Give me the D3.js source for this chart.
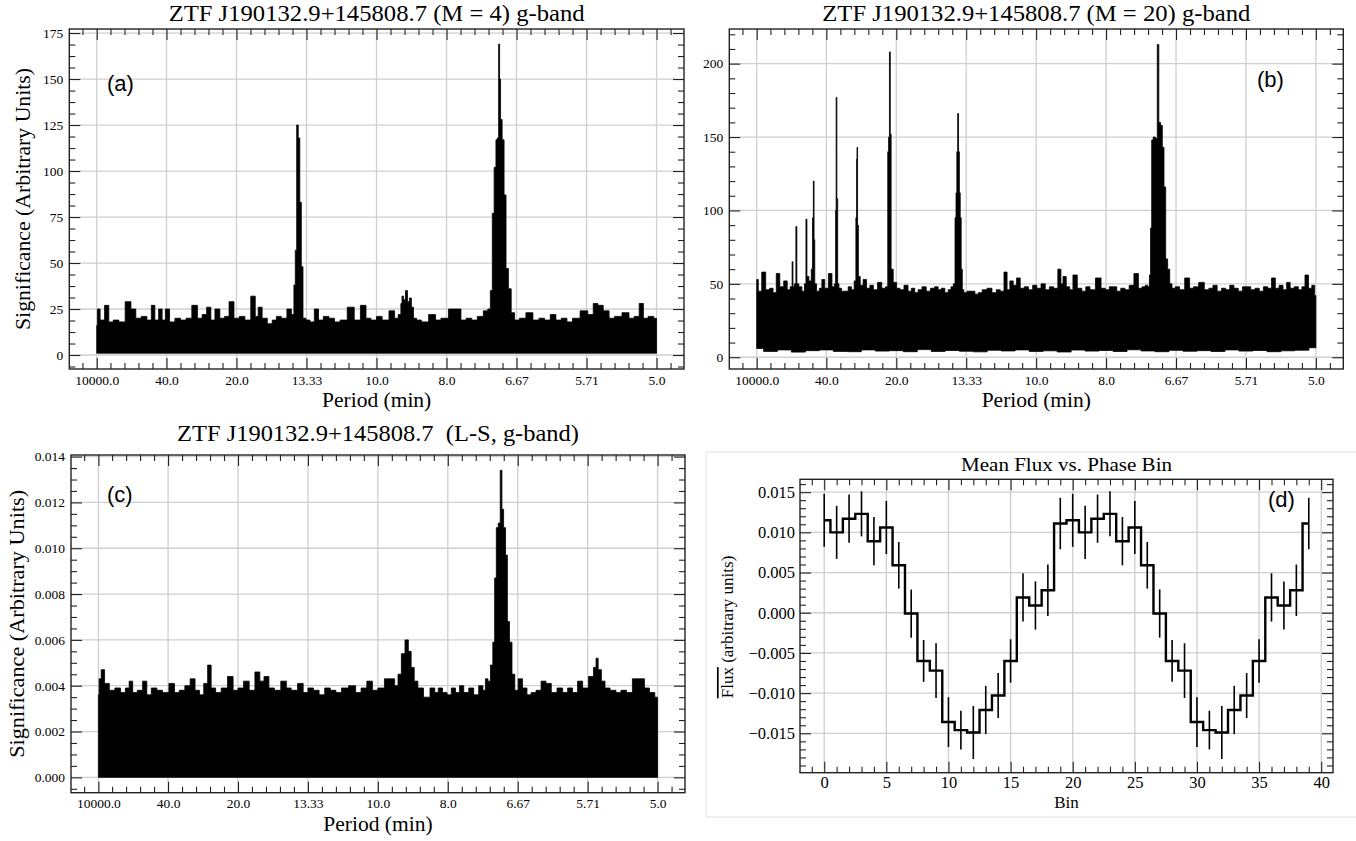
<!DOCTYPE html>
<html>
<head>
<meta charset="utf-8">
<script src="https://cdn.jsdelivr.net/npm/d3@7"></script>
<style>
  body { margin: 0; background: #fff; }
  svg text { font-family: 'Liberation Serif', 'Times New Roman', serif; fill: #000; }
  svg text.tag { font-family: 'Liberation Sans', Arial, sans-serif; }
</style>
</head>
<body>
<script>
// ---- data ----
// x axis of the periodograms is frequency (1/min); labels show the period
var periodTickFreq = [0.0001, 0.025, 0.05, 0.075, 0.1, 0.125, 0.15, 0.175, 0.2];
var periodTickLabels = ['10000.0', '40.0', '20.0', '13.33', '10.0', '8.0', '6.67', '5.71', '5.0'];

var sigATicks = [0, 25, 50, 75, 100, 125, 150, 175];
var sigBTicks = [0, 50, 100, 150, 200];
var sigCTicks = [0, 0.002, 0.004, 0.006, 0.008, 0.010, 0.012, 0.014];

// (a) M = 4, top of the comb [freq, significance]
var sigA = [[0.0001,16],[0.0006,25],[0.002,19],[0.0038,27],[0.005,18],[0.007,19],[0.009,18],[0.0115,29],[0.0131,25],[0.015,20],
  [0.017,21],[0.019,19],[0.0202,27],[0.0215,19],[0.0229,25],[0.024,19],[0.0252,25],[0.027,18],[0.029,20],[0.031,19],
  [0.033,20],[0.0351,27],[0.037,20],[0.0385,22],[0.0402,26],[0.0415,19],[0.0431,25],[0.045,20],[0.0465,21],[0.0482,29],
  [0.050,20],[0.052,21],[0.054,19],[0.0562,32],[0.0572,21],[0.0583,26],[0.060,20],[0.062,17],[0.0635,19],[0.065,21],
  [0.067,20],[0.0690,25],[0.0702,22],[0.0708,38],[0.0712,57],[0.0718,125],[0.0723,118],[0.0729,83],[0.0734,48],[0.0741,20],
  [0.0755,19],[0.077,18],[0.0786,25],[0.080,19],[0.082,21],[0.084,20],[0.086,18],[0.088,19],[0.0911,26],[0.093,19],
  [0.0955,27],[0.097,20],[0.099,19],[0.101,21],[0.103,19],[0.1059,24],[0.107,20],[0.1085,22],[0.1089,28],[0.1093,32],
  [0.1100,30],[0.1107,35],[0.1114,29],[0.1121,31],[0.1128,26],[0.1136,20],[0.115,19],[0.117,18],[0.1202,22],[0.122,19],
  [0.124,20],[0.1274,25],[0.1293,25],[0.131,19],[0.133,20],[0.135,19],[0.137,21],[0.1393,24],[0.1402,25],[0.1411,35],
  [0.1416,77],[0.1424,102],[0.1429,117],[0.1434,118],[0.1438,169],[0.1441,150],[0.1445,128],[0.1452,117],[0.1459,87],[0.1466,47],
  [0.1476,36],[0.1486,23],[0.150,19],[0.152,20],[0.1547,23],[0.157,19],[0.159,20],[0.161,19],[0.1631,22],[0.165,19],
  [0.167,20],[0.169,18],[0.171,20],[0.1744,24],[0.1765,22],[0.1783,28],[0.1798,27],[0.1821,24],[0.184,20],[0.186,21],
  [0.1893,23],[0.191,20],[0.193,21],[0.1946,28],[0.196,20],[0.198,21],[0.2,20]];
var baseA = 1;

// (b) M = 20, top and bottom of the comb
var sigB = [[0.0001,53],[0.0012,45],[0.0026,58],[0.004,46],[0.0054,47],[0.0065,44],[0.0077,57],[0.009,48],[0.0105,52],[0.0115,46],
  [0.0126,48],[0.0129,65],[0.0132,48],[0.0139,50],[0.0143,89],[0.0146,50],[0.0157,48],[0.0168,45],[0.0175,50],[0.0179,94],
  [0.0182,55],[0.0193,52],[0.0199,60],[0.0202,95],[0.0205,120],[0.0207,80],[0.0210,50],[0.0220,45],[0.0230,47],[0.0238,53],
  [0.0250,47],[0.0265,57],[0.0275,48],[0.0282,50],[0.0284,100],[0.0286,177],[0.0289,108],[0.0292,50],[0.0298,47],[0.0310,45],
  [0.0322,45],[0.0334,48],[0.0345,46],[0.0354,52],[0.0357,95],[0.0359,135],[0.0360,143],[0.0363,90],[0.0366,55],[0.0376,49],
  [0.0387,53],[0.0400,47],[0.0411,49],[0.0425,46],[0.0441,51],[0.0455,47],[0.0468,48],[0.0471,140],[0.0474,150],[0.0477,208],
  [0.0480,152],[0.0483,60],[0.0495,51],[0.0507,47],[0.0519,46],[0.0536,49],[0.0548,45],[0.0560,47],[0.0572,44],[0.0584,46],
  [0.0600,48],[0.0614,45],[0.0630,47],[0.0644,48],[0.0655,46],[0.0667,47],[0.0680,44],[0.0691,46],[0.0700,48],[0.0708,50],
  [0.0712,95],[0.0715,112],[0.0718,140],[0.0721,166],[0.0724,140],[0.0727,112],[0.0730,95],[0.0734,60],[0.0738,46],[0.0745,44],
  [0.0760,45],[0.0775,45],[0.0787,43],[0.0799,44],[0.0815,46],[0.0834,47],[0.0850,44],[0.0865,46],[0.0878,45],[0.0892,58],
  [0.0900,46],[0.0912,52],[0.0924,49],[0.0936,54],[0.0950,47],[0.0965,48],[0.0980,46],[0.0995,49],[0.1010,47],[0.1025,50],
  [0.1040,46],[0.1055,48],[0.1070,47],[0.1085,60],[0.1092,50],[0.1100,55],[0.1115,48],[0.1125,46],[0.1138,56],[0.1156,47],
  [0.1170,45],[0.1185,48],[0.1200,46],[0.1224,54],[0.1240,47],[0.1255,46],[0.1268,48],[0.1281,48],[0.1295,45],[0.1310,47],
  [0.1325,46],[0.1340,49],[0.1359,57],[0.1372,47],[0.1385,48],[0.1395,49],[0.1403,48],[0.1407,56],[0.1411,88],[0.1415,148],
  [0.1422,150],[0.1430,149],[0.1436,213],[0.1441,160],[0.1448,158],[0.1454,143],[0.1460,116],[0.1466,67],[0.1474,60],[0.1481,50],
  [0.1490,47],[0.1505,48],[0.1520,46],[0.1542,54],[0.1555,47],[0.1570,48],[0.1592,51],[0.1610,46],[0.1625,47],[0.1639,49],
  [0.1655,45],[0.1670,47],[0.1685,46],[0.1699,49],[0.1715,47],[0.1730,45],[0.1745,48],[0.1759,48],[0.1775,46],[0.1790,47],
  [0.1805,45],[0.1820,48],[0.1835,47],[0.1848,54],[0.1862,47],[0.1875,49],[0.1890,46],[0.1901,51],[0.1915,47],[0.1930,48],
  [0.1945,46],[0.1955,48],[0.1967,56],[0.1980,47],[0.1991,49],[0.2000,42]];
var botB = [[0.0001,6],[0.005,4],[0.01,5],[0.015,3.5],[0.02,4.5],[0.025,5],[0.03,4],[0.035,3.8],[0.04,5],[0.045,4.2],
  [0.05,4.5],[0.055,3.8],[0.06,5.2],[0.065,4],[0.07,4.6],[0.075,4.1],[0.08,3.7],[0.085,4.8],[0.09,4.3],[0.095,5],
  [0.1,4],[0.105,4.4],[0.11,3.6],[0.115,4.9],[0.12,4.2],[0.125,4.6],[0.13,3.9],[0.135,5.1],[0.14,4.3],[0.145,3.8],
  [0.15,4.7],[0.155,4.1],[0.16,4.5],[0.165,3.9],[0.17,5],[0.175,4.2],[0.18,4.6],[0.185,3.8],[0.19,4.4],[0.195,4.8],[0.2,6.5]];

// (c) Lomb-Scargle
var sigC = [[0.0001,0.0036],[0.0006,0.0043],[0.0016,0.0047],[0.003,0.0041],[0.005,0.0038],[0.007,0.0039],[0.009,0.0037],[0.0105,0.0039],
  [0.0117,0.0042],[0.013,0.0037],[0.015,0.0038],[0.0168,0.0042],[0.018,0.0036],[0.020,0.0039],[0.022,0.0038],[0.024,0.0037],
  [0.0266,0.0041],[0.028,0.0037],[0.030,0.0038],[0.032,0.0040],[0.0338,0.0043],[0.0355,0.0038],[0.037,0.0036],[0.0385,0.0041],
  [0.0398,0.0049],[0.041,0.0039],[0.043,0.0037],[0.045,0.0039],[0.0475,0.0044],[0.049,0.0038],[0.051,0.0039],[0.053,0.0042],
  [0.055,0.0038],[0.0571,0.0046],[0.0585,0.0042],[0.0601,0.0044],[0.062,0.0039],[0.064,0.0038],[0.0666,0.0042],[0.068,0.0039],
  [0.070,0.0038],[0.0726,0.0041],[0.074,0.0037],[0.076,0.0039],[0.078,0.0038],[0.080,0.0036],[0.082,0.0039],[0.084,0.0038],
  [0.086,0.0037],[0.088,0.0039],[0.0911,0.0040],[0.093,0.0037],[0.095,0.0039],[0.0971,0.0042],[0.099,0.0038],[0.101,0.0039],
  [0.1037,0.0043],[0.1054,0.0043],[0.1066,0.0040],[0.1078,0.0045],[0.1090,0.0054],[0.1104,0.0060],[0.1114,0.0055],[0.1124,0.0048],
  [0.1136,0.0042],[0.115,0.0039],[0.1176,0.0035],[0.1197,0.0039],[0.121,0.0037],[0.1222,0.0039],[0.124,0.0037],[0.1255,0.0036],
  [0.1270,0.0039],[0.1285,0.0037],[0.1299,0.0040],[0.1315,0.0037],[0.1335,0.0039],[0.135,0.0036],[0.1371,0.0040],[0.138,0.0038],
  [0.1389,0.0043],[0.1398,0.0042],[0.1407,0.0049],[0.1415,0.0059],[0.1420,0.0087],[0.1427,0.0109],[0.1434,0.0111],[0.1441,0.0134],
  [0.1446,0.0117],[0.1453,0.0109],[0.1460,0.0097],[0.1466,0.0068],[0.1475,0.0059],[0.1484,0.0045],[0.1495,0.0038],[0.1508,0.0043],
  [0.1526,0.0039],[0.154,0.0036],[0.1556,0.0037],[0.1575,0.0038],[0.1592,0.0042],[0.1610,0.0041],[0.163,0.0037],[0.1651,0.0039],
  [0.167,0.0037],[0.1687,0.0039],[0.1705,0.0037],[0.1723,0.0042],[0.1741,0.0039],[0.1765,0.0044],[0.1777,0.0048],[0.1783,0.0052],
  [0.1792,0.0047],[0.1806,0.0042],[0.1818,0.0039],[0.1842,0.0038],[0.186,0.0037],[0.1878,0.0038],[0.190,0.0037],[0.1920,0.0043],
  [0.1944,0.0043],[0.1962,0.0039],[0.198,0.0037],[0.2000,0.0035]];
var baseC = 0;

// (d) mean flux per phase bin
var phaseBin = [0,1,2,3,4,5,6,7,8,9,10,11,12,13,14,15,16,17,18,19,20,21,22,23,24,25,26,27,28,29,30,31,32,33,34,35,36,37,38,39];
var meanFlux = [0.0115,0.0100,0.0117,0.0123,0.0089,0.0106,0.0059,-0.0001,-0.0060,-0.0072,
  -0.0136,-0.0146,-0.0149,-0.0121,-0.0103,-0.0060,0.0019,0.0009,0.0028,0.0111,
  0.0115,0.0100,0.0117,0.0123,0.0089,0.0106,0.0059,-0.0001,-0.0060,-0.0072,
  -0.0136,-0.0146,-0.0149,-0.0121,-0.0103,-0.0060,0.0019,0.0009,0.0028,0.0111];
var fluxErr = [0.0033,0.0033,0.0030,0.0028,0.0030,0.0033,0.0029,0.0030,0.0026,0.0034,
  0.0031,0.0024,0.0033,0.0030,0.0028,0.0027,0.0030,0.0030,0.0032,0.0032,
  0.0033,0.0033,0.0030,0.0028,0.0030,0.0033,0.0029,0.0030,0.0026,0.0034,
  0.0031,0.0024,0.0033,0.0030,0.0028,0.0027,0.0030,0.0030,0.0032,0.0032];
var binTicks = [0, 5, 10, 15, 20, 25, 30, 35, 40];
var fluxTicks = [-0.015, -0.010, -0.005, 0, 0.005, 0.010, 0.015];

// ---- drawing ----
var svg = d3.select('body').append('svg').attr('width', 1356).attr('height', 841);

var serif = "'Liberation Serif', 'Times New Roman', serif";

function grid(g, x, y, xv, yv) {
  var x0 = x.range()[0], x1 = x.range()[1], y0 = y.range()[0], y1 = y.range()[1];
  g.append('g').selectAll('line').data(xv).enter().append('line')
    .attr('x1', function(d){ return x(d); }).attr('x2', function(d){ return x(d); })
    .attr('y1', y0).attr('y2', y1)
    .attr('stroke', '#cfcfcf').attr('stroke-width', 1.3);
  g.append('g').selectAll('line').data(yv).enter().append('line')
    .attr('x1', x0).attr('x2', x1)
    .attr('y1', function(d){ return y(d); }).attr('y2', function(d){ return y(d); })
    .attr('stroke', '#cfcfcf').attr('stroke-width', 1.3);
}

function styleAxis(sel, size) {
  sel.attr('font-family', serif).attr('font-size', size);
  sel.select('.domain').remove();
  sel.selectAll('.tick line').attr('stroke', '#222').attr('stroke-width', 1.1);
}

// ticks pointing inwards on all four sides, plus the frame
function frame(g, x, y, o) {
  var x0 = x.range()[0], x1 = x.range()[1], yb = y.range()[0], yt = y.range()[1];
  var big = 11, small = 6;

  g.append('g').attr('transform', 'translate(0,' + yb + ')')
    .call(d3.axisBottom(x).tickValues(o.xMajor).tickFormat(o.xFmt).tickSizeInner(-big).tickSizeOuter(0).tickPadding(o.xPad))
    .call(styleAxis, o.tickSize);
  g.append('g').attr('transform', 'translate(0,' + yb + ')')
    .call(d3.axisBottom(x).tickValues(o.xMinor).tickFormat('').tickSize(-small))
    .call(styleAxis, o.tickSize);
  g.append('g').attr('transform', 'translate(0,' + yt + ')')
    .call(d3.axisTop(x).tickValues(o.xMajor).tickFormat('').tickSize(-big))
    .call(styleAxis, o.tickSize);
  g.append('g').attr('transform', 'translate(0,' + yt + ')')
    .call(d3.axisTop(x).tickValues(o.xMinor).tickFormat('').tickSize(-small))
    .call(styleAxis, o.tickSize);

  g.append('g').attr('transform', 'translate(' + x0 + ',0)')
    .call(d3.axisLeft(y).tickValues(o.yMajor).tickFormat(o.yFmt).tickSizeInner(-big).tickSizeOuter(0).tickPadding(o.yPad))
    .call(styleAxis, o.tickSize);
  g.append('g').attr('transform', 'translate(' + x0 + ',0)')
    .call(d3.axisLeft(y).tickValues(o.yMinor).tickFormat('').tickSize(-small))
    .call(styleAxis, o.tickSize);
  g.append('g').attr('transform', 'translate(' + x1 + ',0)')
    .call(d3.axisRight(y).tickValues(o.yMajor).tickFormat('').tickSize(-big))
    .call(styleAxis, o.tickSize);
  g.append('g').attr('transform', 'translate(' + x1 + ',0)')
    .call(d3.axisRight(y).tickValues(o.yMinor).tickFormat('').tickSize(-small))
    .call(styleAxis, o.tickSize);

  g.append('rect').attr('x', x0).attr('y', yt).attr('width', x1 - x0).attr('height', yb - yt)
    .attr('fill', 'none').attr('stroke', '#222').attr('stroke-width', 1.4);
}

function minors(step, lo, hi, majorStep) {
  var out = [];
  for (var k = Math.ceil(lo / step); k * step <= hi; k++) {
    var v = k * step;
    if (Math.abs(v / majorStep - Math.round(v / majorStep)) > 1e-6) out.push(v);
  }
  return out;
}

var freqMinor = minors(0.005, -0.0097, 0.2098, 0.025);

function periodogram(p) {
  var g = svg.append('g');
  var x = d3.scaleLinear().domain([-0.0097, 0.2098]).range([p.left, p.right]);
  var y = d3.scaleLinear().domain(p.yDomain).range([p.bottom, p.top]);

  grid(g, x, y, periodTickFreq, p.yTicks);

  // comb outline: upper edge left->right, lower edge back right->left
  var pts = p.upper.map(function(d){ return [x(d[0]), y(d[1])]; })
    .concat(p.lower.slice().reverse().map(function(d){ return [x(d[0]), y(d[1])]; }));
  g.append('path').attr('d', d3.line().curve(d3.curveStep)(pts) + 'Z')
    .attr('fill', '#000').attr('stroke', '#000').attr('stroke-width', 0.8);

  frame(g, x, y, {
    xMajor: periodTickFreq, xMinor: freqMinor,
    xFmt: function(d, i){ return periodTickLabels[i]; }, xPad: 6,
    yMajor: p.yTicks, yMinor: minors(p.yMinorStep, p.yDomain[0], p.yDomain[1], p.yTicks[1]),
    yFmt: p.yFmt, yPad: 6, tickSize: 13.5
  });

  var cx = (p.left + p.right) / 2;
  g.append('text').attr('x', cx).attr('y', p.titleY).attr('text-anchor', 'middle')
    .attr('font-size', 23).style('white-space', 'pre')
    .attr('textLength', p.titleLen).attr('lengthAdjust', 'spacingAndGlyphs').text(p.title);
  g.append('text').attr('x', cx).attr('y', p.bottom + 38).attr('text-anchor', 'middle')
    .attr('font-size', 21.5).text('Period (min)');
  if (p.ylabelX) {
    g.append('text').attr('transform', 'translate(' + p.ylabelX + ',' + (p.top + p.bottom) / 2 + ') rotate(-90)')
      .attr('text-anchor', 'middle').attr('dy', '0.35em').attr('font-size', 21.5)
      .attr('textLength', p.ylabelLen).attr('lengthAdjust', 'spacingAndGlyphs')
      .text('Significance (Arbitrary Units)');
  }
  g.append('text').attr('class', 'tag').attr('x', p.tag[0]).attr('y', p.tag[1])
    .attr('font-size', 22).text(p.tag[2]);
}

periodogram({
  left: 69.3, right: 684, top: 29, bottom: 369, titleY: 21, titleLen: 416,
  yDomain: [-7.6, 177.2], yTicks: sigATicks, yMinorStep: 6.25, yFmt: d3.format('d'),
  upper: sigA, lower: [[0.0001, baseA], [0.2, baseA]],
  title: 'ZTF J190132.9+145808.7 (M = 4) g-band', ylabelX: 22, ylabelLen: 262, tag: [107, 91, '(a)']
});

periodogram({
  left: 729.3, right: 1343.3, top: 29, bottom: 369, titleY: 21, titleLen: 428,
  yDomain: [-8, 223.6], yTicks: sigBTicks, yMinorStep: 10, yFmt: d3.format('d'),
  upper: sigB, lower: botB,
  title: 'ZTF J190132.9+145808.7 (M = 20) g-band', ylabelX: null, tag: [1257, 87, '(b)']
});

periodogram({
  left: 71, right: 685, top: 455, bottom: 792.7, titleY: 441, titleLen: 402,
  yDomain: [-0.00067, 0.01407], yTicks: sigCTicks, yMinorStep: 0.0005, yFmt: d3.format('.3f'),
  upper: sigC, lower: [[0.0001, baseC], [0.2, baseC]],
  title: 'ZTF J190132.9+145808.7  (L-S, g-band)', ylabelX: 16, ylabelLen: 268, tag: [107, 502, '(c)']
});

// (d) folded light curve
(function() {
  var g = svg.append('g');
  g.append('rect').attr('x', 706).attr('y', 452).attr('width', 660).attr('height', 365)
    .attr('fill', 'none').attr('stroke', '#ececec').attr('stroke-width', 1.5);

  var x = d3.scaleLinear().domain([-1.95, 40.95]).range([800, 1333]);
  var y = d3.scaleLinear().domain([-0.0199, 0.0166]).range([772.7, 479.3]);

  grid(g, x, y, binTicks, fluxTicks);

  g.append('g').selectAll('line').data(phaseBin).enter().append('line')
    .attr('x1', function(d){ return x(d); }).attr('x2', function(d){ return x(d); })
    .attr('y1', function(d, i){ return y(meanFlux[i] - fluxErr[i]); })
    .attr('y2', function(d, i){ return y(meanFlux[i] + fluxErr[i]); })
    .attr('stroke', '#000').attr('stroke-width', 1.6);

  var step = d3.line()
    .x(function(d){ return x(d); })
    .y(function(d, i){ return y(meanFlux[i]); })
    .curve(d3.curveStep);
  g.append('path').datum(phaseBin).attr('d', step)
    .attr('fill', 'none').attr('stroke', '#000').attr('stroke-width', 2.4);

  frame(g, x, y, {
    xMajor: binTicks, xMinor: minors(1, -1.95, 40.95, 5), xFmt: d3.format('d'), xPad: 4,
    yMajor: fluxTicks, yMinor: minors(0.001, -0.0199, 0.0166, 0.005), yFmt: d3.format('.3f'), yPad: 5,
    tickSize: 16.5
  });

  g.append('text').attr('x', 1066.5).attr('y', 471).attr('text-anchor', 'middle')
    .attr('font-size', 19.5).attr('textLength', 211).attr('lengthAdjust', 'spacingAndGlyphs')
    .text('Mean Flux vs. Phase Bin');
  g.append('text').attr('x', 1066.5).attr('y', 808).attr('text-anchor', 'middle')
    .attr('font-size', 17).text('Bin');
  var yl = g.append('text').attr('transform', 'translate(727,627) rotate(-90)')
    .attr('text-anchor', 'middle').attr('dy', '0.35em').attr('font-size', 17);
  yl.append('tspan').style('text-decoration', 'overline').text('Flux');
  yl.append('tspan').text(' (arbitrary units)');
  g.append('text').attr('class', 'tag').attr('x', 1268).attr('y', 507)
    .attr('font-size', 22).text('(d)');
})();
</script>
</body>
</html>
